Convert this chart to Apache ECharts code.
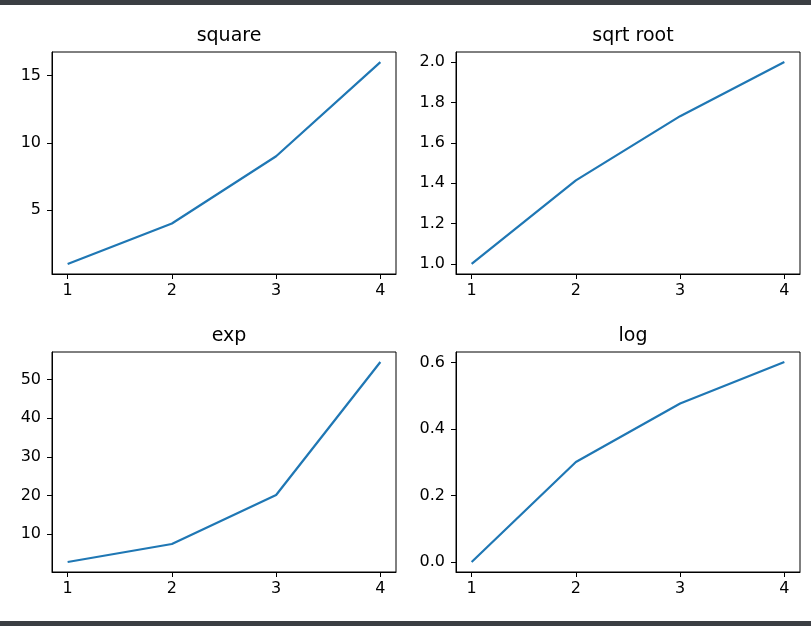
<!DOCTYPE html>
<html>
<head>
<meta charset="utf-8">
<script src="https://cdn.jsdelivr.net/npm/echarts@6/dist/echarts.min.js"></script>
<style>
  html, body { margin: 0; padding: 0; background: #ffffff; }
  #wrap { position: relative; width: 811px; height: 626px; overflow: hidden; }
  #chart { position: absolute; left: 0; top: 0; width: 811px; height: 626px; }
  .band { position: absolute; left: 0; width: 811px; height: 5px; background: #3b3e43; }
</style>
</head>
<body>
<div id="wrap">
  <div id="chart"></div>
  <div class="band" style="top:0"></div>
  <div class="band" style="top:621px"></div>
</div>
<script>
// ---- data ----
const xValues = [1, 2, 3, 4];
const squareValues = [1, 4, 9, 16];
const sqrtValues = [1.0, 1.4142, 1.7321, 2.0];
const expValues = [2.7183, 7.3891, 20.0855, 54.5982];
const logValues = [0.0, 0.3010, 0.4771, 0.6021];

const titles = ['square', 'sqrt root', 'exp', 'log'];
const xTicks = [1, 2, 3, 4];
const squareTicks = [5, 10, 15];
const sqrtTicks = [1.0, 1.2, 1.4, 1.6, 1.8, 2.0];
const expTicks = [10, 20, 30, 40, 50];
const logTicks = [0.0, 0.2, 0.4, 0.6];

// ---- layout ----
const panels = [
  { vals: squareValues, ticks: squareTicks, dec: 0, left: 52,  top: 52,  width: 344, height: 222 },
  { vals: sqrtValues,   ticks: sqrtTicks,   dec: 1, left: 456, top: 52,  width: 344, height: 222 },
  { vals: expValues,    ticks: expTicks,    dec: 0, left: 52,  top: 352, width: 344, height: 220 },
  { vals: logValues,    ticks: logTicks,    dec: 1, left: 456, top: 352, width: 344, height: 220 }
];

function padRange(arr) {
  const lo = Math.min.apply(null, arr), hi = Math.max.apply(null, arr);
  const m = (hi - lo) * 0.05;
  return [lo - m, hi + m];
}

const font = 'DejaVu Sans';
const grids = [], xAxes = [], yAxes = [], series = [], titleOpts = [];
const xr = padRange(xValues);

panels.forEach((p, i) => {
  grids.push({ left: p.left, top: p.top, width: p.width, height: p.height,
    show: true, borderColor: '#000', borderWidth: 1, backgroundColor: '#fff' });
  xAxes.push({
    type: 'value', gridIndex: i, min: xr[0], max: xr[1],
    axisLine: { show: true, onZero: false, lineStyle: { color: '#000', width: 1 } },
    axisTick: { show: true, length: 5, customValues: xTicks, lineStyle: { color: '#000', width: 1 } },
    axisLabel: { customValues: xTicks, margin: 9, color: '#000', fontSize: 16, fontFamily: font,
      formatter: v => String(Math.round(v)) },
    splitLine: { show: false }
  });
  const yr = padRange(p.vals);
  yAxes.push({
    type: 'value', gridIndex: i, min: yr[0], max: yr[1],
    axisLine: { show: true, onZero: false, lineStyle: { color: '#000', width: 1 } },
    axisTick: { show: true, length: 5, customValues: p.ticks, lineStyle: { color: '#000', width: 1 } },
    axisLabel: { customValues: p.ticks, margin: 11, color: '#000', fontSize: 16, fontFamily: font,
      formatter: v => v.toFixed(p.dec) },
    splitLine: { show: false }
  });
  series.push({
    type: 'line', xAxisIndex: i, yAxisIndex: i, showSymbol: false, silent: true,
    lineStyle: { color: '#1f77b4', width: 2.2 }, itemStyle: { color: '#1f77b4' },
    data: xValues.map((x, k) => [x, p.vals[k]]), animation: false
  });
  titleOpts.push({
    text: titles[i], left: p.left + p.width / 2, top: p.top - 30, textAlign: 'center',
    textStyle: { fontSize: 19, fontWeight: 'normal', fontFamily: font, color: '#000' }
  });
});

const chart = echarts.init(document.getElementById('chart'), null, { renderer: 'canvas' });
chart.setOption({
  backgroundColor: '#fff',
  animation: false,
  title: titleOpts,
  grid: grids,
  xAxis: xAxes,
  yAxis: yAxes,
  series: series
});
</script>
</body>
</html>
